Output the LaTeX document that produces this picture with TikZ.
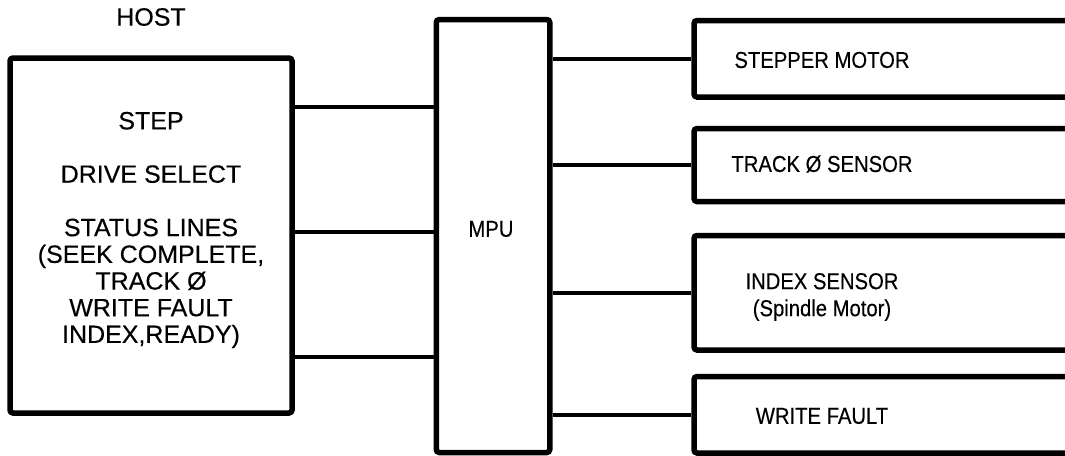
\documentclass[tikz,border=0pt]{standalone}
\usepackage{fontspec}
\setmainfont[FakeBold=0.3]{Liberation Sans}
\newfontfamily\narrowsans[FakeStretch=0.88,FakeBold=0.3]{Liberation Sans}
\usetikzlibrary{positioning}

\begin{document}
\begin{tikzpicture}[x=1pt,y=-1pt,
  blockbox/.style={draw=black,line width=5.5pt,rounded corners=3pt,inner sep=0pt},
  hosttext/.style={font=\fontsize{25}{26.7}\selectfont,align=center,inner sep=0pt},
  unittext/.style={font=\narrowsans\fontsize{23}{27}\selectfont,align=center,inner sep=0pt},
  wire/.style={draw=black,line width=4.5pt}
]
  \useasboundingbox (0,0) rectangle (1065,455);
  \clip (0,0) rectangle (1065,455);

  % host side
  \node[hosttext] (hostlbl) at (151,17) {HOST};
  \node[blockbox,minimum width=282pt,minimum height=355pt] (host) at (151,235.5) {};
  \node[hosttext] (hostlines) at (151,230)
    {STEP\\[26.7pt]DRIVE SELECT\\[26.7pt]STATUS LINES\\(SEEK COMPLETE,\\TRACK Ø\\WRITE FAULT\\INDEX,READY)};

  % controller
  \node[blockbox,minimum width=113.5pt,minimum height=433pt] (mpu) at (493,236) {};
  \node[unittext] (mpulbl) at (491,229) {MPU};

  % drive units, open towards the right edge
  \node[blockbox,minimum width=426pt,minimum height=76.5pt] (stepper) at (907,58.75) {};
  \node[blockbox,minimum width=426pt,minimum height=73pt] (track) at (907,165) {};
  \node[blockbox,minimum width=426pt,minimum height=114.5pt] (index) at (907,292.75) {};
  \node[blockbox,minimum width=426pt,minimum height=76.5pt] (wfault) at (907,414.75) {};

  \node[unittext] (stepperlbl) at (822,60) {STEPPER MOTOR};
  \node[unittext] (tracklbl) at (822,164) {TRACK Ø SENSOR};
  \node[unittext] (indexlbl) at (822,297) {INDEX SENSOR\\(Spindle Motor)};
  \node[unittext] (wfaultlbl) at (822,416) {WRITE FAULT};

  \foreach \y in {107,232,357}
    \draw[wire] (host.east |- 0,\y) -- (mpu.west |- 0,\y);
  \foreach \unit in {stepper,track,index,wfault}
    \draw[wire] (mpu.east |- \unit.west) -- (\unit.west);
\end{tikzpicture}
\end{document}
